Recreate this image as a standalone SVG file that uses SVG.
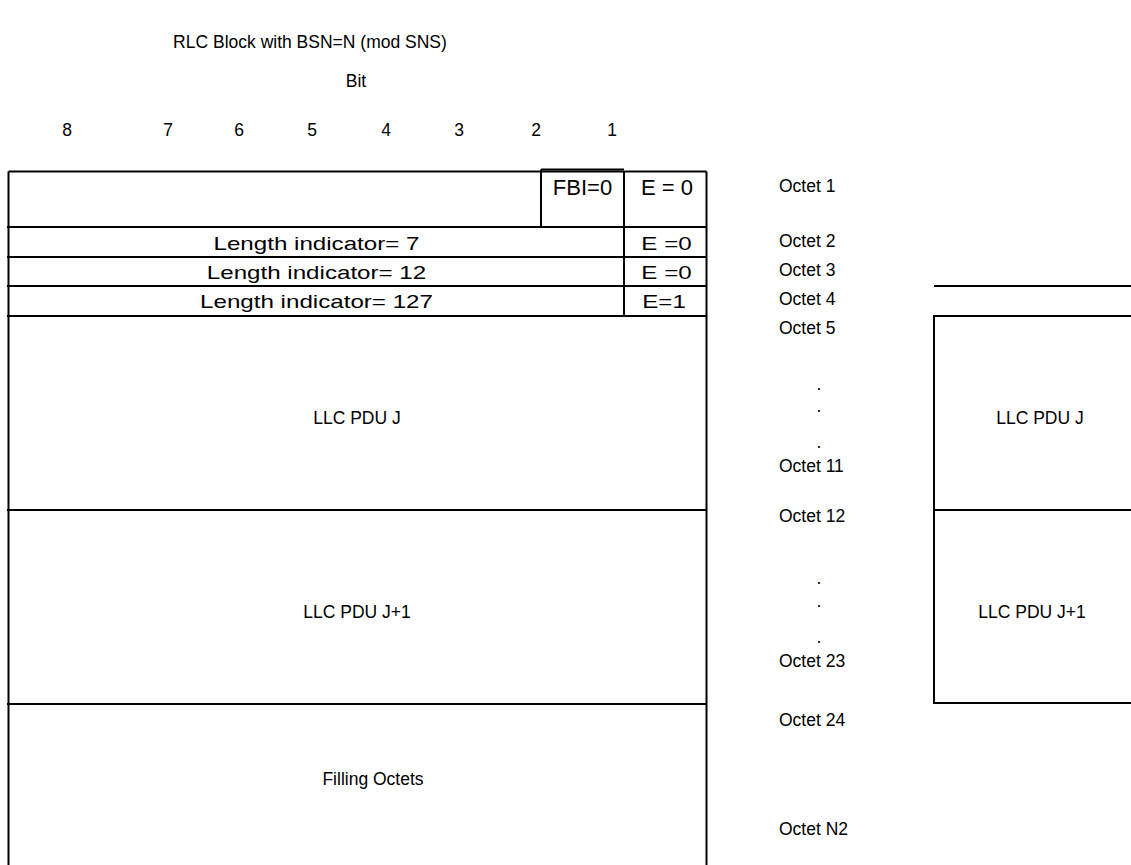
<svg xmlns="http://www.w3.org/2000/svg" width="1131" height="865" viewBox="0 0 1131 865">
<style>
text{font-family:"Liberation Sans",Arial,sans-serif;font-size:17.5px;fill:#000}
.m{text-anchor:middle}
.c{font-size:22px}
.ln{stroke:#000;stroke-width:2;fill:none}
</style>
<rect width="1131" height="865" fill="#fff"/>
<g id="header">
<text class="m" x="310" y="48">RLC Block with BSN=N (mod SNS)</text>
<text class="m" x="356" y="87">Bit</text>
<text class="m" x="67" y="136">8</text>
<text class="m" x="168" y="136">7</text>
<text class="m" x="239" y="136">6</text>
<text class="m" x="312" y="136">5</text>
<text class="m" x="386" y="136">4</text>
<text class="m" x="459" y="136">3</text>
<text class="m" x="536" y="136">2</text>
<text class="m" x="612" y="136">1</text>
</g>
<g id="table" class="ln">
<path d="M8.5 171.5H706.5M7 227H706.5M7 257H706.5M7 286H706.5M7 316H706.5M7 510H706.5M7 704H706.5"/>
<path d="M8.5 171.5V865M706.5 171.5V865M624 171.5V316M541 169.5V227M541 169.5H624"/>
</g>
<g id="right" class="ln">
<path d="M934 286H1131M1131 316H934V703H1131M934 510H1131"/>
</g>
<g id="octet1"><text class="m c" x="582.5" y="195">FBI=0</text><text class="m c" x="667" y="195">E = 0</text><text x="779" y="192">Octet 1</text></g>
<g id="octet2"><text class="m" transform="translate(316.5,250) scale(1.38,1)">Length indicator= 7</text><text class="m" transform="translate(666.5,250) scale(1.38,1)">E =0</text><text x="779" y="247">Octet 2</text></g>
<g id="octet3"><text class="m" transform="translate(316.5,279) scale(1.38,1)">Length indicator= 12</text><text class="m" transform="translate(666.5,279) scale(1.38,1)">E =0</text><text x="779" y="276">Octet 3</text></g>
<g id="octet4"><text class="m" transform="translate(316.5,308) scale(1.38,1)">Length indicator= 127</text><text class="m" transform="translate(664,308) scale(1.38,1)">E=1</text><text x="779" y="305">Octet 4</text></g>
<g id="pduJ"><text class="m" x="357" y="424">LLC PDU J</text><text x="779" y="334">Octet 5</text><text class="m" x="819" y="390">.</text><text class="m" x="819" y="412">.</text><text class="m" x="819" y="448">.</text><text x="779" y="472">Octet 11</text><text class="m" x="1040" y="424">LLC PDU J</text></g>
<g id="pduJ1"><text class="m" x="357" y="618">LLC PDU J+1</text><text x="779" y="522">Octet 12</text><text class="m" x="819" y="584">.</text><text class="m" x="819" y="607">.</text><text class="m" x="819" y="643">.</text><text x="779" y="667">Octet 23</text><text class="m" x="1032" y="618">LLC PDU J+1</text></g>
<g id="filling"><text class="m" x="373" y="785">Filling Octets</text><text x="779" y="726">Octet 24</text><text x="779" y="835">Octet N2</text></g>
</svg>
